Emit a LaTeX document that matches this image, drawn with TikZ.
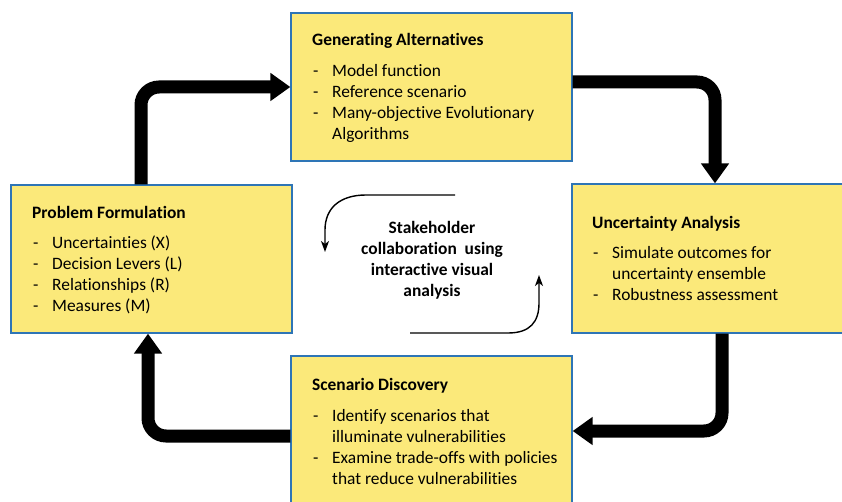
\documentclass[tikz,border=0pt]{standalone}
\usepackage{fontspec}
\setmainfont{Carlito}[Ligatures=NoCommon]
\usetikzlibrary{arrows.meta}
\definecolor{boxfill}{RGB}{251,233,122}
\definecolor{boxline}{RGB}{46,117,182}
\newcommand{\bodytext}{\fontsize{17.4}{21}\selectfont}
\newcommand{\steplist}[1]{\begin{tabular}[t]{@{}p{19pt}@{}l@{}}#1\end{tabular}}
\tikzset{
  stagebox/.style={draw=boxline, line width=1.3pt, fill=boxfill, inner sep=0pt},
  heading/.style={anchor=base west, inner sep=0pt, font=\bodytext\bfseries},
  itemlist/.style={anchor=base west, inner sep=0pt, font=\bodytext},
  flow/.style={line width=13pt, rounded corners=18pt, -{Triangle[width=27pt,length=20pt]}},
  swirl/.style={line width=1.4pt, -{Stealth[width=8pt,length=11pt,inset=3pt]}},
  centertext/.style={anchor=base, inner sep=0pt, font=\bodytext\bfseries}
}
\begin{document}
\begin{tikzpicture}[x=1pt,y=-1pt]
  \clip (0,0) rectangle (842,502);
  \fill[white] (0,0) rectangle (842,502);

  % the four stages of the cycle
  \node[stagebox, minimum width=281pt, minimum height=148pt] (top) at (431.5,87) {};
  \node[stagebox, minimum width=281pt, minimum height=148pt] (left) at (151.5,259) {};
  \node[stagebox, minimum width=274pt, minimum height=149pt] (right) at (709,258.5) {};
  \node[stagebox, minimum width=281pt, minimum height=150pt] (bottom) at (431.5,431) {};

  % stage texts
  \node[heading] (topT) at (312,45.5) {Generating Alternatives};
  \node[itemlist] (topL) at (313,76.5) {\steplist{-&Model function\\-&Reference scenario\\-&Many-objective Evolutionary\\&Algorithms}};

  \node[heading] (leftT) at (32,218.5) {Problem Formulation};
  \node[itemlist] (leftL) at (33,248.5) {\steplist{-&Uncertainties (X)\\-&Decision Levers (L)\\-&Relationships (R)\\-&Measures (M)}};

  \node[heading] (rightT) at (592,228.5) {Uncertainty Analysis};
  \node[itemlist] (rightL) at (593,258.5) {\steplist{-&Simulate outcomes for\\&uncertainty ensemble\\-&Robustness assessment}};

  \node[heading] (bottomT) at (312,390.5) {Scenario Discovery};
  \node[itemlist] (bottomL) at (313,421.5) {\steplist{-&Identify scenarios that\\&illuminate vulnerabilities\\-&Examine trade-offs with policies\\&that reduce vulnerabilities}};

  % centre label
  \node[centertext] (hub) at (432,233.5) {\begin{tabular}[t]{@{}c@{}}Stakeholder\\collaboration\ \ using\\interactive visual\\analysis\end{tabular}};

  % thick cycle arrows
  \draw[flow] ([xshift=-10.5pt]left.north) |- (top.west);
  \draw[flow] ([yshift=5pt]top.east) -| ([xshift=6pt]right.north);
  \draw[flow] ([xshift=13pt]right.south) |- (bottom.east);
  \draw[flow] ([yshift=-5pt]bottom.west) -| ([xshift=-3.5pt]left.south);

  % thin turning arrows around the centre label
  \coordinate (swA) at (455,195);
  \coordinate (swAend) at (325,252);
  \coordinate (swB) at (410,333);
  \coordinate (swBend) at (539,275);
  \draw[swirl] (swA) -- (366,195) .. controls (340,195) and (325,208) .. (325,230) -- (swAend);
  \draw[swirl] (swB) -- (508,333) .. controls (530,333) and (539,322) .. (539,303) -- (swBend);
\end{tikzpicture}
\end{document}
